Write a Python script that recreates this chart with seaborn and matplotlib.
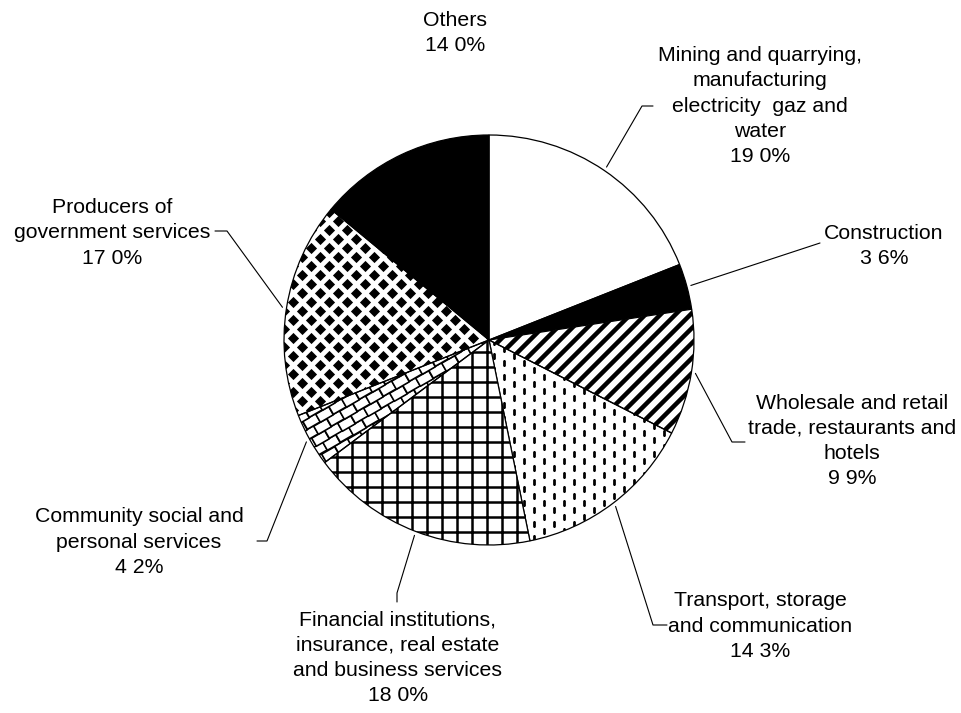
"""
Pie chart: sectoral shares (scanned report figure), black and white with textures.
"""

import numpy as np
import matplotlib
matplotlib.use("Agg")
import matplotlib.pyplot as plt
from matplotlib.markers import MarkerStyle
from matplotlib.transforms import Affine2D
import seaborn as sns

# Data (clockwise from 12 o'clock)
sectors = [
    "Mining and quarrying,\nmanufacturing\nelectricity  gaz and\nwater",
    "Construction",
    "Wholesale and retail\ntrade, restaurants and\nhotels",
    "Transport, storage\nand communication",
    "Financial institutions,\ninsurance, real estate\nand business services",
    "Community social and\npersonal services",
    "Producers of\ngovernment services",
    "Others",
]
shares = [19.0, 3.6, 9.9, 14.3, 18.0, 4.2, 17.0, 14.0]
pct_labels = ["19 0%", "3 6%", "9 9%", "14 3%", "18 0%", "4 2%", "17 0%", "14 0%"]

# Styling per slice
fills = ["white", "black", "white", "none", "white", "none", "none", "black"]
hatches = [None, None, "//", None, "+", None, None, None]

# Layout in pixels (x right, y down) -- label centres and leader elbows
W, H, DPI = 962, 713, 90
CX, CY, R = 489, 340, 205
label_pos = [(760, 106), (884, 246), (852, 441), (760, 626),
             (398, 658), (139, 542), (112, 233), (455, 33)]
elbows = [
    [(642, 106), (653, 106)],
    [(820, 243)],
    [(732, 442), (745, 442)],
    [(653, 625), (667, 625)],
    [(397, 593), (397, 602)],
    [(267, 541), (257, 541)],
    [(227, 231), (215, 231)],
    None,
]

sns.set_theme(style="white")
plt.rcParams["font.family"] = ["Liberation Sans", "DejaVu Sans"]
plt.rcParams["hatch.linewidth"] = 2.4


def px(x, y):
    """pixel position -> data coords (y flipped)"""
    return x, H - y


def texture(wedge, xs, ys, **kw):
    """scatter a marker texture clipped to one wedge"""
    sc = ax.scatter(xs, ys, zorder=0.5, color="black", **kw)
    sc.set_clip_path(wedge)
    return sc


fig = plt.figure(figsize=(W / DPI, H / DPI), dpi=DPI)
ax = fig.add_axes([0, 0, 1, 1])
center = px(CX, CY)

wedges, _ = ax.pie(
    shares, startangle=90, counterclock=False, radius=R, center=center,
    colors=fills, wedgeprops=dict(edgecolor="black", linewidth=1.0),
)
for w, fc, h in zip(wedges, fills, hatches):
    w.set_facecolor(fc)
    if h:
        w.set_hatch(h)
        if hasattr(w, "set_hatch_linewidth"):
            w.set_hatch_linewidth(3.6 if "/" in h else 2.0)

x0, y0 = center

# Transport: short vertical dashes
gx, gy = np.meshgrid(np.arange(x0 - R, x0 + R, 10.0), np.arange(y0 - R, y0 + R, 14.0))
gy = gy + (np.arange(gx.shape[1]) % 2) * 7.0
texture(wedges[3], gx.ravel(), gy.ravel(), marker="|", s=30, linewidths=2.2)

# Community: brick pattern running at 30 degrees
ang = np.deg2rad(30)
ii, jj = np.meshgrid(np.arange(-25, 26), np.arange(-35, 36))
u = ii * 15.0 + (jj % 2) * 7.5
v = jj * 9.4
bx = x0 + u * np.cos(ang) - v * np.sin(ang)
by = y0 + u * np.sin(ang) + v * np.cos(ang)
brick = MarkerStyle("s", transform=Affine2D().scale(1.6, 1.0).rotate_deg(30))
sc = ax.scatter(bx.ravel(), by.ravel(), marker=brick, s=56, facecolor="white",
                edgecolor="black", linewidths=1.3, zorder=0.5)
sc.set_clip_path(wedges[5])

# Producers: diamond checkerboard
dx, dy = np.meshgrid(np.arange(x0 - R, x0 + R, 18.0), np.arange(y0 - R, y0 + R, 9.0))
dx = dx + (np.arange(dx.shape[0])[:, None] % 2) * 9.0
texture(wedges[6], dx.ravel(), dy.ravel(), marker="D", s=40, linewidths=0)

# Labels and leader lines
for w, name, pct, (tx, ty), elb in zip(wedges, sectors, pct_labels, label_pos, elbows):
    ax.text(*px(tx, ty), f"{name}\n{pct}", ha="center", va="center",
            fontsize=17, linespacing=1.42, color="black")
    if elb is None:
        continue
    mid = np.deg2rad((w.theta1 + w.theta2) / 2)
    pts = [(x0 + 1.02 * R * np.cos(mid), y0 + 1.02 * R * np.sin(mid))]
    pts += [px(ex, ey) for ex, ey in elb]
    xs, ys = zip(*pts)
    ax.plot(xs, ys, color="black", lw=0.9)

ax.set_xlim(0, W)
ax.set_ylim(0, H)
ax.set_aspect("equal")
ax.axis("off")

fig.savefig("out.png", dpi=DPI, facecolor="white")
plt.close(fig)
